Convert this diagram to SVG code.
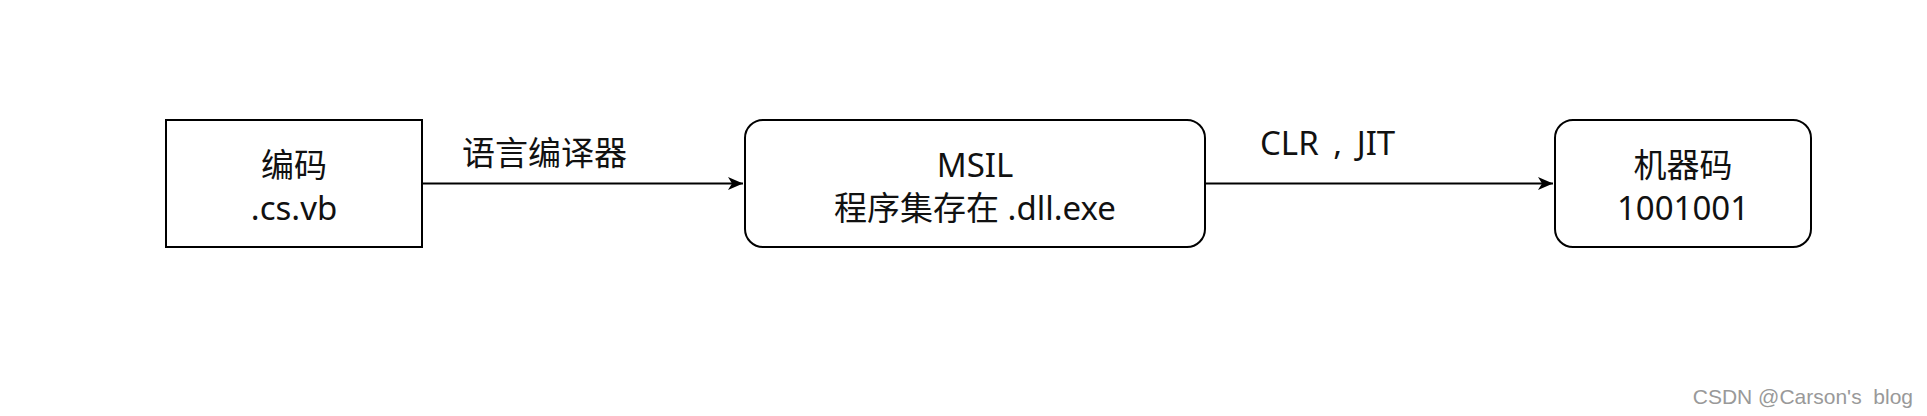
<svg xmlns="http://www.w3.org/2000/svg" width="1927" height="416" viewBox="0 0 1927 416">
<style>
.box{fill:#fff;stroke:#000;stroke-width:2}
.t{font-family:"Noto Sans","Noto Sans CJK SC",sans-serif;font-size:33px;fill:#111;text-anchor:middle}
.lbl{font-family:"Noto Sans","Noto Sans CJK SC",sans-serif;font-size:33px;fill:#111}
.edge{stroke:#000;stroke-width:2.2;fill:none}
.wm{font-family:"Liberation Sans",Arial,sans-serif;font-size:21px;fill:#999;white-space:pre;text-anchor:end}
</style>
<defs>
<marker id="arr" viewBox="0 0 16 16" refX="15" refY="8" markerWidth="16" markerHeight="16" markerUnits="userSpaceOnUse" orient="auto">
<path d="M0,1.5 L15,8 L0,14.5 L4,8 Z" fill="#000"/>
</marker>
</defs>
<rect width="1927" height="416" fill="#fff"/>
<g id="connectors">
<line class="edge" x1="423" y1="183.5" x2="743" y2="183.5" marker-end="url(#arr)"/>
<text class="lbl" x="462" y="165">语言编译器</text>
<line class="edge" x1="1205" y1="183.5" x2="1553" y2="183.5" marker-end="url(#arr)"/>
<text class="lbl" x="1260" y="155" word-spacing="6">CLR , JIT</text>
</g>
<g id="node-code">
<rect class="box" x="166" y="120" width="256" height="127"/>
<text class="t" x="294" y="177">编码</text>
<text class="t" x="294" y="220">.cs.vb</text>
</g>
<g id="node-msil">
<rect class="box" x="745" y="120" width="460" height="127" rx="18" ry="18"/>
<text class="t" x="975" y="177">MSIL</text>
<text class="t" x="975" y="220">程序集存在 .dll.exe</text>
</g>
<g id="node-machine">
<rect class="box" x="1555" y="120" width="256" height="127" rx="18" ry="18"/>
<text class="t" x="1683" y="177">机器码</text>
<text class="t" x="1683" y="220">1001001</text>
</g>
<text class="wm" x="1913" y="404" xml:space="preserve">CSDN @Carson's  blog</text>
</svg>
